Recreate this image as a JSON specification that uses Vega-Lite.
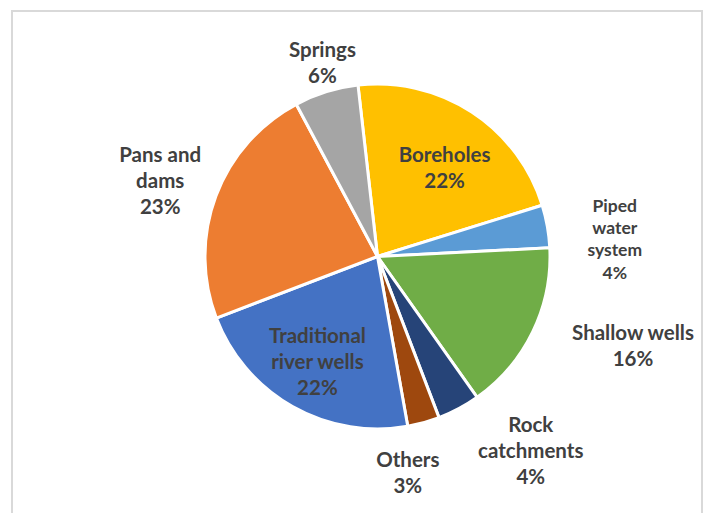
{
  "$schema": "https://vega.github.io/schema/vega-lite/v6.json",
  "width": 690,
  "height": 514,
  "autosize": "none",
  "padding": {"left": 12, "top": 11, "right": 6, "bottom": -12},
  "background": "white",
  "view": {"stroke": "#d9d9d9", "strokeWidth": 2, "fill": "white"},
  "data": {
    "values": [
      {"cat": "Boreholes", "value": 22, "ord": 1, "label": "Boreholes\n22%"},
      {"cat": "Piped water system", "value": 4, "ord": 2, "label": "Piped\nwater\nsystem\n4%"},
      {"cat": "Shallow wells", "value": 16, "ord": 3, "label": "Shallow wells\n16%"},
      {"cat": "Rock catchments", "value": 4, "ord": 4, "label": "Rock\ncatchments\n4%"},
      {"cat": "Others", "value": 3, "ord": 5, "label": "Others\n3%"},
      {"cat": "Traditional river wells", "value": 22, "ord": 6, "label": "Traditional\nriver wells\n22%"},
      {"cat": "Pans and dams", "value": 23, "ord": 7, "label": "Pans and\ndams\n23%"},
      {"cat": "Springs", "value": 6, "ord": 8, "label": "Springs\n6%"}
    ]
  },
  "encoding": {
    "theta": {"field": "value", "type": "quantitative", "stack": true, "scale": {"domain": [0, 100], "range": [-0.1134, 6.1698]}},
    "order": {"field": "ord", "type": "quantitative"},
    "detail": {"field": "cat", "type": "nominal"}
  },
  "layer": [
    {
      "mark": {"type": "arc", "radius": 172.5, "stroke": "white", "strokeWidth": 3, "xOffset": 20.5, "yOffset": -11.5},
      "encoding": {
        "color": {
          "field": "cat", "type": "nominal", "legend": null,
          "scale": {
            "domain": ["Boreholes", "Piped water system", "Shallow wells", "Rock catchments", "Others", "Traditional river wells", "Pans and dams", "Springs"],
            "range": ["#FFC000", "#5B9BD5", "#70AD47", "#264478", "#9E480E", "#4472C4", "#ED7D31", "#A5A5A5"]
          }
        }
      }
    },
    {
      "mark": {"type": "text", "radius": 202, "dx": 5, "dy": -13, "xOffset": 20.5, "yOffset": -11.5, "font": "Lato", "fontWeight": "bold", "fontSize": 20.5, "lineHeight": 26, "lineBreak": "\n", "fill": "#404040", "align": "center", "baseline": "middle"},
      "encoding": {"text": {"condition": {"test": "datum.cat === 'Springs'", "field": "label", "type": "nominal"}, "value": ""}}
    },
    {
      "mark": {"type": "text", "radius": 232, "dy": -19, "xOffset": 20.5, "yOffset": -11.5, "font": "Lato", "fontWeight": "bold", "fontSize": 20.5, "lineHeight": 26, "lineBreak": "\n", "fill": "#404040", "align": "center", "baseline": "middle"},
      "encoding": {"text": {"condition": {"test": "datum.cat === 'Pans and dams'", "field": "label", "type": "nominal"}, "value": ""}}
    },
    {
      "mark": {"type": "text", "radius": 110, "dx": 7, "dy": -8, "xOffset": 20.5, "yOffset": -11.5, "font": "Lato", "fontWeight": "bold", "fontSize": 20.5, "lineHeight": 26, "lineBreak": "\n", "fill": "#404040", "align": "center", "baseline": "middle"},
      "encoding": {"text": {"condition": {"test": "datum.cat === 'Boreholes'", "field": "label", "type": "nominal"}, "value": ""}}
    },
    {
      "mark": {"type": "text", "radius": 122, "dy": -26, "xOffset": 20.5, "yOffset": -11.5, "font": "Lato", "fontWeight": "bold", "fontSize": 20.5, "lineHeight": 26, "lineBreak": "\n", "fill": "#404040", "align": "center", "baseline": "middle"},
      "encoding": {"text": {"condition": {"test": "datum.cat === 'Traditional river wells'", "field": "label", "type": "nominal"}, "value": ""}}
    },
    {
      "mark": {"type": "text", "radius": 241, "dy": -7.5, "xOffset": 20.5, "yOffset": -11.5, "font": "Lato", "fontWeight": "bold", "fontSize": 17.5, "lineHeight": 22.3, "lineBreak": "\n", "fill": "#404040", "align": "center", "baseline": "middle"},
      "encoding": {"text": {"condition": {"test": "datum.cat === 'Piped water system'", "field": "label", "type": "nominal"}, "value": ""}}
    },
    {
      "mark": {"type": "text", "radius": 270, "dx": 12.6, "dy": -40.4, "xOffset": 20.5, "yOffset": -11.5, "font": "Lato", "fontWeight": "bold", "fontSize": 20.5, "lineHeight": 26, "lineBreak": "\n", "fill": "#404040", "align": "center", "baseline": "middle"},
      "encoding": {"text": {"condition": {"test": "datum.cat === 'Shallow wells'", "field": "label", "type": "nominal"}, "value": ""}}
    },
    {
      "mark": {"type": "text", "radius": 249, "dx": 36, "dy": -50, "xOffset": 20.5, "yOffset": -11.5, "font": "Lato", "fontWeight": "bold", "fontSize": 20.5, "lineHeight": 26, "lineBreak": "\n", "fill": "#404040", "align": "center", "baseline": "middle"},
      "encoding": {"text": {"condition": {"test": "datum.cat === 'Rock catchments'", "field": "label", "type": "nominal"}, "value": ""}}
    },
    {
      "mark": {"type": "text", "radius": 222, "dx": -29, "dy": -9, "xOffset": 20.5, "yOffset": -11.5, "font": "Lato", "fontWeight": "bold", "fontSize": 20.5, "lineHeight": 26, "lineBreak": "\n", "fill": "#404040", "align": "center", "baseline": "middle"},
      "encoding": {"text": {"condition": {"test": "datum.cat === 'Others'", "field": "label", "type": "nominal"}, "value": ""}}
    }
  ]
}
